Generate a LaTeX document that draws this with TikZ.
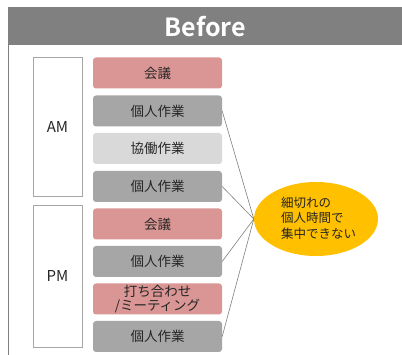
\documentclass[tikz,border=0pt]{standalone}
\usepackage{fontspec}
\setmainfont{Noto Sans CJK JP}
\newfontfamily\jpbold{Noto Sans CJK JP Bold}
\usetikzlibrary{shapes.geometric}
\definecolor{hdr}{HTML}{808080}
\definecolor{pinkc}{HTML}{DA9694}
\definecolor{dgray}{HTML}{A6A6A6}
\definecolor{lgray}{HTML}{D9D9D9}
\definecolor{gold}{HTML}{FFC000}
\definecolor{txt}{HTML}{262626}
\tikzset{
  task/.style={rounded corners=3pt, minimum width=129pt, minimum height=31pt, inner sep=0pt,
    text=txt, font=\fontsize{13.5}{13.5}\selectfont, align=center},
  meet/.style={task, fill=pinkc},
  solo/.style={task, fill=dgray},
  collab/.style={task, fill=lgray},
  half/.style={draw=dgray, line width=0.8pt, fill=white, inner sep=0pt},
  link/.style={draw=hdr, line width=0.6pt}
}
\begin{document}
\begin{tikzpicture}[x=1pt,y=-1pt]
\useasboundingbox (0,0) rectangle (402,355);
\fill[white] (0,0) rectangle (402,355);
% header
\node[fill=hdr, minimum width=394pt, minimum height=38pt, inner sep=0pt, anchor=north west,
  text=white, font=\jpbold\fontsize{25}{26}\selectfont] (hdr) at (8,7) {Before};
\draw[draw=hdr, line width=0.8pt] (hdr.south west) -- ++(0,310) coordinate (fr);
% AM / PM frames
\draw[half] (33,57) rectangle (82,196);
\node[text=txt, font=\fontsize{15}{16}\selectfont] (am) at (57.5,127) {AM};
\draw[half] (33,205) rectangle (82,347);
\node[text=txt, font=\fontsize{15}{16}\selectfont] (pm) at (57.5,276) {PM};
% tasks
\node[meet] (b1) at (157.5,73) {会議};
\node[solo] (b2) at (157.5,111) {個人作業};
\node[collab] (b3) at (157.5,148.5) {協働作業};
\node[solo] (b4) at (157.5,186.5) {個人作業};
\node[meet] (b5) at (157.5,224) {会議};
\node[solo] (b6) at (157.5,261.5) {個人作業};
\node[meet] (b7) at (157.5,299) {打ち合わせ\\/ミーティング};
\node[solo] (b8) at (157.5,336.5) {個人作業};
% ellipse
\node[ellipse, fill=gold, minimum width=124pt, minimum height=74pt, inner sep=0pt] (el) at (316,219) {};
\node[anchor=west, align=left, text=txt, font=\fontsize{12.5}{15.5}\selectfont, inner sep=0pt] (eltxt) at (281,218) {細切れの\\個人時間で\\集中できない};
% links
\draw[link] (b2.east) -- (el.west);
\draw[link] (b4.east) -- (el.west);
\draw[link] (b6.east) -- (el.west);
\draw[link] (b8.east) -- (el.west);
\end{tikzpicture}
\end{document}
